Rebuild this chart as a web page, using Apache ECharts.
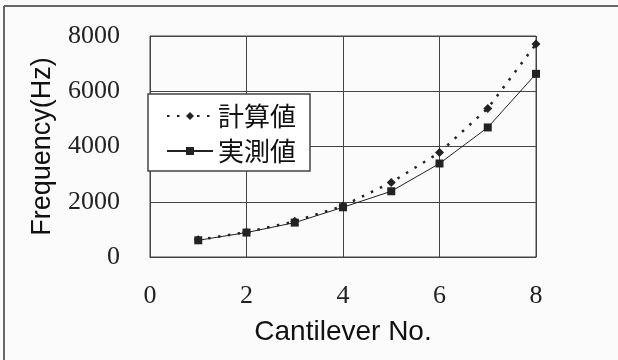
<!DOCTYPE html>
<html>
<head>
<meta charset="utf-8">
<script src="https://cdn.jsdelivr.net/npm/echarts@6/dist/echarts.min.js"></script>
<style>
html,body{margin:0;padding:0;background:#fbfbfb;}
#c{width:618px;height:360px;}
</style>
</head>
<body>
<div id="c"></div>
<script>
const cantilever = [1, 2, 3, 4, 5, 6, 7, 8];
const calculated = [620, 900, 1290, 1850, 2700, 3780, 5380, 7710];
const measured = [605, 885, 1245, 1800, 2380, 3385, 4690, 6630];
const seriesNames = ['計算値', '実測値'];
const xTicks = [0, 2, 4, 6, 8];
const yTicks = [0, 2000, 4000, 6000, 8000];

const chart = echarts.init(document.getElementById('c'), null, {renderer: 'canvas'});
const dark = '#222';
chart.setOption({
  backgroundColor: '#fbfbfb',
  animation: false,
  graphic: [
    {type: 'line', shape: {x1: 4, y1: 6, x2: 618, y2: 6}, style: {stroke: '#666', lineWidth: 2}},
    {type: 'line', shape: {x1: 4, y1: 6, x2: 4, y2: 360}, style: {stroke: '#666', lineWidth: 2}}
  ],
  grid: {left: 150, right: 82, top: 36, bottom: 103, show: true, borderColor: '#444', borderWidth: 1, backgroundColor: 'transparent'},
  xAxis: {
    type: 'value', min: xTicks[0], max: xTicks[xTicks.length - 1], interval: 2,
    name: 'Cantilever No.', nameLocation: 'middle', nameGap: 61,
    nameTextStyle: {fontFamily: 'Liberation Sans', fontSize: 28, color: '#111'},
    axisLine: {lineStyle: {color: '#444'}}, axisTick: {show: false},
    axisLabel: {fontFamily: 'Liberation Serif', fontSize: 26, color: '#222', margin: 26, formatter: v => String(v)},
    splitLine: {show: true, lineStyle: {color: '#444', width: 1}}
  },
  yAxis: {
    type: 'value', min: yTicks[0], max: yTicks[yTicks.length - 1], interval: 2000,
    name: 'Frequency(Hz)', nameLocation: 'middle', nameGap: 94,
    nameTextStyle: {fontFamily: 'Liberation Sans', fontSize: 27, color: '#111'},
    axisLine: {show: true, lineStyle: {color: '#444'}}, axisTick: {show: false},
    axisLabel: {fontFamily: 'Liberation Serif', fontSize: 26, color: '#222', margin: 30, formatter: v => String(v)},
    splitLine: {show: true, lineStyle: {color: '#444', width: 1}}
  },
  legend: {
    left: 148, top: 94, orient: 'vertical',
    backgroundColor: '#fff', borderColor: '#444', borderWidth: 1.5, borderRadius: 0,
    padding: [8, 14, 6, 18], itemGap: 7, itemWidth: 46, itemHeight: 10,
    textStyle: {fontFamily: 'Noto Sans CJK JP', fontSize: 26, color: '#111', lineHeight: 28},
    data: seriesNames
  },
  series: [
    {
      name: seriesNames[0], type: 'line',
      data: cantilever.map((x, i) => [x, calculated[i]]),
      symbol: 'diamond', symbolSize: 9,
      itemStyle: {color: dark},
      lineStyle: {color: dark, width: 2.5, type: [2.5, 7.5]},
      z: 3
    },
    {
      name: seriesNames[1], type: 'line',
      data: cantilever.map((x, i) => [x, measured[i]]),
      symbol: 'rect', symbolSize: 8,
      itemStyle: {color: dark},
      lineStyle: {color: dark, width: 1},
      z: 2
    }
  ]
});
</script>
</body>
</html>
